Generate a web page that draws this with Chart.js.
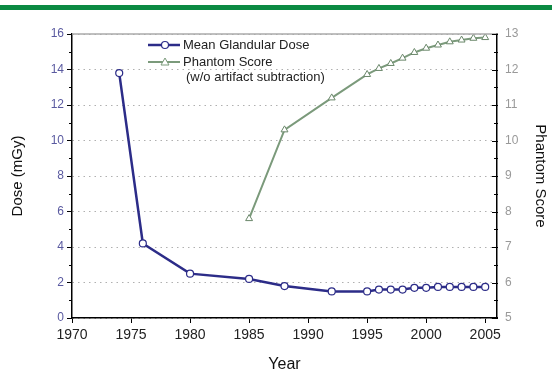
<!DOCTYPE html>
<html>
<head>
<meta charset="utf-8">
<script src="https://cdn.jsdelivr.net/npm/chart.js@4.4.1/dist/chart.umd.min.js"></script>
<style>
  html, body { margin: 0; padding: 0; background: #fff; }
  #wrap { position: relative; width: 552px; height: 374px; }
  #band { position: absolute; left: 0; top: 5px; width: 552px; height: 5px; background: #0b8a42; }
  #chart { position: absolute; left: 0; top: 0; }
</style>
</head>
<body>
<div id="wrap">
  <canvas id="chart" width="552" height="374"></canvas>
  <div id="band"></div>
</div>
<script>
// dose data (mGy)
const doseYears = [1974, 1976, 1980, 1985, 1988, 1992, 1995, 1996, 1997, 1998, 1999, 2000, 2001, 2002, 2003, 2004, 2005];
const doseValues = [13.8, 4.2, 2.5, 2.2, 1.8, 1.5, 1.5, 1.6, 1.6, 1.6, 1.7, 1.7, 1.75, 1.75, 1.75, 1.75, 1.75];

// phantom score data
const scoreYears = [1985, 1988, 1992, 1995, 1996, 1997, 1998, 1999, 2000, 2001, 2002, 2003, 2004, 2005];
const scoreValues = [7.8, 10.3, 11.2, 11.86, 12.03, 12.17, 12.32, 12.48, 12.6, 12.69, 12.78, 12.83, 12.88, 12.9];

const legendLabels = ['Mean Glandular Dose', 'Phantom Score', '(w/o artifact subtraction)'];

const doseColor = '#2c2c88';
const scoreColor = '#7b9a7b';
const fontFamily = '"Liberation Sans", Arial, sans-serif';

// extra ticks, top frame and the legend
const decorPlugin = {
    id: 'decor',
    afterDraw(chart) {
        const ctx = chart.ctx;
        const area = chart.chartArea;
        const y = chart.scales.y;
        const y1 = chart.scales.y1;

        ctx.save();
        // top frame line
        ctx.strokeStyle = '#aaa';
        ctx.lineWidth = 1.5;
        ctx.beginPath();
        ctx.moveTo(area.left, area.top);
        ctx.lineTo(area.right, area.top);
        ctx.stroke();

        ctx.strokeStyle = '#000';
        ctx.lineWidth = 1;
        // left minor ticks
        for (let v = 1; v < 16; v += 2) {
            const py = Math.round(y.getPixelForValue(v)) + 0.5;
            ctx.beginPath();
            ctx.moveTo(area.left - 3, py);
            ctx.lineTo(area.left, py);
            ctx.stroke();
        }
        // right ticks (inside)
        for (let v = 5; v <= 13; v += 0.5) {
            const py = Math.round(y1.getPixelForValue(v)) + 0.5;
            const len = Number.isInteger(v) ? 5 : 3;
            ctx.beginPath();
            ctx.moveTo(area.right - len, py);
            ctx.lineTo(area.right + 1, py);
            ctx.stroke();
        }

        // legend
        ctx.font = '13px ' + fontFamily;
        ctx.textBaseline = 'middle';

        ctx.strokeStyle = doseColor;
        ctx.lineWidth = 2.5;
        ctx.beginPath();
        ctx.moveTo(148, 45);
        ctx.lineTo(180, 45);
        ctx.stroke();
        ctx.fillStyle = '#fff';
        ctx.lineWidth = 1.2;
        ctx.beginPath();
        ctx.arc(165, 45, 3.5, 0, Math.PI * 2);
        ctx.fill();
        ctx.stroke();
        ctx.fillStyle = '#222';
        ctx.fillText(legendLabels[0], 183, 45);

        ctx.strokeStyle = scoreColor;
        ctx.lineWidth = 2;
        ctx.beginPath();
        ctx.moveTo(148, 62);
        ctx.lineTo(180, 62);
        ctx.stroke();
        ctx.fillStyle = '#fff';
        ctx.lineWidth = 1;
        ctx.beginPath();
        ctx.moveTo(165, 58);
        ctx.lineTo(169, 65);
        ctx.lineTo(161, 65);
        ctx.closePath();
        ctx.fill();
        ctx.stroke();
        ctx.fillStyle = '#222';
        ctx.fillText(legendLabels[1], 183, 62);
        ctx.fillText(legendLabels[2], 186, 77);
        ctx.restore();
    }
};

const ctx = document.getElementById('chart').getContext('2d');
new Chart(ctx, {
    type: 'line',
    data: {
        datasets: [{
            label: legendLabels[0],
            data: doseYears.map((yr, i) => ({ x: yr, y: doseValues[i] })),
            yAxisID: 'y',
            borderColor: doseColor,
            borderWidth: 2.5,
            pointStyle: 'circle',
            pointRadius: 3.5,
            pointBackgroundColor: '#fff',
            pointBorderColor: doseColor,
            pointBorderWidth: 1.2,
            tension: 0
        }, {
            label: legendLabels[1],
            data: scoreYears.map((yr, i) => ({ x: yr, y: scoreValues[i] })),
            yAxisID: 'y1',
            borderColor: scoreColor,
            borderWidth: 2,
            pointStyle: 'triangle',
            pointRadius: 4,
            pointBackgroundColor: '#fff',
            pointBorderColor: '#6a876a',
            pointBorderWidth: 1,
            tension: 0
        }]
    },
    options: {
        responsive: false,
        animation: false,
        layout: { padding: { top: 34, left: 0, right: 0, bottom: 0 } },
        plugins: {
            legend: { display: false },
            tooltip: { enabled: false }
        },
        scales: {
            x: {
                type: 'linear',
                min: 1970,
                max: 2006,
                afterFit: (s) => { s.height = 56; },
                ticks: {
                    stepSize: 5,
                    includeBounds: false,
                    color: '#222',
                    font: { family: fontFamily, size: 14 },
                    padding: 4,
                    callback: (v) => String(v)
                },
                grid: { drawOnChartArea: false, drawTicks: true, tickLength: 5, tickColor: '#000' },
                border: { color: '#000', width: 1.5 },
                title: {
                    display: true,
                    text: 'Year',
                    color: '#111',
                    font: { family: fontFamily, size: 16 },
                    padding: { top: 0, bottom: 0 }
                }
            },
            y: {
                position: 'left',
                min: 0,
                max: 16,
                afterFit: (s) => { s.width = 72; },
                ticks: {
                    stepSize: 2,
                    color: '#5a5aa0',
                    font: { family: fontFamily, size: 12 },
                    padding: 3
                },
                grid: { color: '#b0b0b0', lineWidth: 1, tickLength: 5, tickColor: '#000' },
                border: { color: '#000', width: 1.5, dash: [1.5, 4] },
                title: {
                    display: true,
                    text: 'Dose (mGy)',
                    color: '#111',
                    font: { family: fontFamily, size: 15 },
                    padding: { top: 9, bottom: 0 }
                }
            },
            y1: {
                position: 'right',
                min: 5,
                max: 13,
                afterFit: (s) => { s.width = 55; },
                ticks: {
                    stepSize: 1,
                    color: '#999',
                    font: { family: fontFamily, size: 12 },
                    padding: 8
                },
                grid: { drawOnChartArea: false, drawTicks: false },
                border: { color: '#000', width: 1.5 },
                title: {
                    display: true,
                    text: 'Phantom Score',
                    color: '#111',
                    font: { family: fontFamily, size: 15 },
                    padding: { top: 3, bottom: 0 }
                }
            }
        }
    },
    plugins: [decorPlugin]
});
</script>
</body>
</html>
